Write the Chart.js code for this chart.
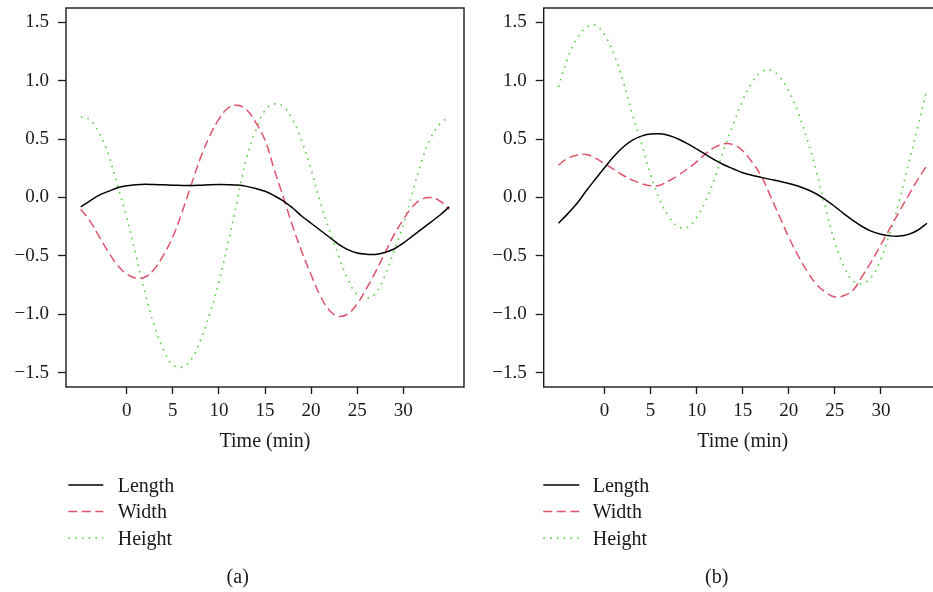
<!DOCTYPE html>
<html><head><meta charset="utf-8">
<script src="https://cdn.jsdelivr.net/npm/chart.js@4/dist/chart.umd.min.js"></script>
<style>
html,body{margin:0;padding:0;background:#fff;overflow:hidden;width:933px;height:592px;position:relative;}
canvas{position:absolute;top:0;}
#ca{left:0;}
#cb{left:466px;}
</style></head><body>
<canvas id="ca" width="490" height="592"></canvas>
<canvas id="cb" width="500" height="592"></canvas>
<script>
// ---- data ----
const time = [-5,-4,-3,-2,-1,0,1,2,3,4,5,6,7,8,9,10,11,12,13,14,15,16,17,18,19,20,21,22,23,24,25,26,27,28,29,30,31,32,33,34,35];

const lengthA = [-0.08,-0.028,0.02,0.052,0.083,0.10,0.11,0.113,0.111,0.108,0.105,0.103,0.102,0.105,0.109,0.111,0.11,0.106,0.095,0.077,0.053,0.015,-0.03,-0.09,-0.16,-0.22,-0.28,-0.34,-0.40,-0.445,-0.475,-0.485,-0.487,-0.47,-0.44,-0.39,-0.33,-0.27,-0.21,-0.15,-0.08];
const widthA = [-0.10,-0.20,-0.335,-0.465,-0.58,-0.655,-0.69,-0.68,-0.61,-0.49,-0.335,-0.125,0.11,0.34,0.525,0.67,0.765,0.788,0.75,0.64,0.49,0.24,0.0,-0.245,-0.465,-0.66,-0.84,-0.965,-1.015,-0.995,-0.91,-0.78,-0.635,-0.478,-0.32,-0.19,-0.08,-0.015,0.0,-0.03,-0.10];
const heightA = [0.69,0.665,0.55,0.37,0.10,-0.17,-0.50,-0.82,-1.10,-1.305,-1.43,-1.45,-1.385,-1.22,-0.995,-0.72,-0.39,-0.02,0.34,0.575,0.745,0.80,0.775,0.665,0.48,0.24,-0.04,-0.28,-0.50,-0.70,-0.83,-0.86,-0.82,-0.67,-0.46,-0.235,0.04,0.31,0.51,0.63,0.69];

const lengthB = [-0.22,-0.14,-0.052,0.055,0.156,0.254,0.35,0.43,0.488,0.525,0.542,0.545,0.53,0.50,0.46,0.415,0.367,0.32,0.278,0.244,0.212,0.19,0.172,0.155,0.138,0.12,0.098,0.068,0.03,-0.02,-0.077,-0.14,-0.198,-0.25,-0.29,-0.315,-0.328,-0.33,-0.315,-0.28,-0.22];
const widthB = [0.276,0.335,0.362,0.368,0.337,0.29,0.24,0.19,0.15,0.118,0.10,0.105,0.143,0.19,0.245,0.305,0.375,0.43,0.46,0.45,0.40,0.304,0.186,0.014,-0.163,-0.34,-0.496,-0.63,-0.742,-0.81,-0.85,-0.838,-0.79,-0.67,-0.544,-0.404,-0.262,-0.12,0.018,0.152,0.276];
const heightB = [0.945,1.19,1.36,1.45,1.475,1.39,1.23,1.0,0.72,0.465,0.195,-0.02,-0.165,-0.25,-0.255,-0.17,-0.027,0.174,0.42,0.63,0.83,0.982,1.07,1.09,1.03,0.91,0.73,0.497,0.223,-0.092,-0.38,-0.592,-0.715,-0.735,-0.677,-0.526,-0.297,-0.03,0.29,0.6,0.93];

const seriesNames = ['Length','Width','Height'];
const xTickValues = [0,5,10,15,20,25,30];
const yTickValues = [-1.5,-1.0,-0.5,0.0,0.5,1.0,1.5];
const yTickLabels = ['\u22121.5','\u22121.0','\u22120.5','0.0','0.5','1.0','1.5'];
const xTitle = 'Time (min)';
const panelLabels = ['(a)','(b)'];

// ---- styling ----
const FONT = '"Liberation Serif", "Times New Roman", serif';
const INK = '#1a1a1a';
const styles = [
  {color:'#000000', dash:[], width:1.5},
  {color:'#DF536B', dash:[9,4.5], width:1.5},
  {color:'#61D04F', dash:[1.6,5.2], width:1.7}
];

function makeDatasets(arrs){
  return arrs.map((arr,i)=>({
    label: seriesNames[i],
    data: time.map((t,k)=>({x:t, y:arr[k]})),
    borderColor: styles[i].color,
    borderDash: styles[i].dash,
    borderWidth: styles[i].width,
    pointRadius: 0,
    tension: 0.4,
    fill: false
  }));
}

function decoPlugin(cfg){
  return {
    id: 'deco',
    afterDatasetsDraw(chart){
      const ctx = chart.ctx, a = chart.chartArea;
      ctx.save();
      ctx.strokeStyle = INK; ctx.lineWidth = 1.4; ctx.setLineDash([]);
      ctx.strokeRect(a.left, a.top, a.right-a.left, a.bottom-a.top);
      ctx.restore();
    },
    afterDraw(chart){
      const ctx = chart.ctx;
      ctx.save();
      chart.data.datasets.forEach((ds,i)=>{
        const y = cfg.legY + i*26.6;
        ctx.strokeStyle = ds.borderColor;
        ctx.lineWidth = ds.borderWidth;
        ctx.setLineDash(ds.borderDash || []);
        ctx.beginPath(); ctx.moveTo(cfg.legX0, y); ctx.lineTo(cfg.legX1, y); ctx.stroke();
        ctx.setLineDash([]);
        ctx.fillStyle = INK;
        ctx.font = '20px ' + FONT;
        ctx.textAlign = 'left'; ctx.textBaseline = 'alphabetic';
        ctx.fillText(ds.label, cfg.textX, y + 6.8);
      });
      ctx.font = '20px ' + FONT;
      ctx.textAlign = 'center';
      ctx.fillStyle = INK;
      ctx.fillText(cfg.caption, cfg.capX, 582.5);
      ctx.restore();
    }
  };
}

function makeChart(id, arrs, cfg){
  return new Chart(document.getElementById(id), {
    type: 'line',
    data: { datasets: makeDatasets(arrs) },
    options: {
      responsive: false, animation: false, events: [],
      layout: { padding: { top: 8, left: 0, right: cfg.padRight, bottom: 138 } },
      plugins: { legend: {display:false}, tooltip: {enabled:false}, title:{display:false} },
      scales: {
        x: {
          type: 'linear', min: -6.6, max: 36.6,
          afterBuildTicks: s => { s.ticks = xTickValues.map(v=>({value:v})); },
          afterFit: s => { s.height = 67; s.paddingLeft = 0; s.paddingRight = 0; s.paddingTop = 0; s.paddingBottom = 0; },
          grid: { display: true, drawOnChartArea: false, drawTicks: true, tickLength: 7, color: INK, tickColor: INK, tickWidth: 1.3 },
          border: { display: false },
          ticks: { font: { family: FONT, size: 19 }, color: INK, padding: 6, maxRotation: 0, autoSkip: false,
                   callback: v => String(v) },
          title: { display: true, text: xTitle, font: { family: FONT, size: 20 }, color: INK, padding: {top:0, bottom:0} }
        },
        y: {
          type: 'linear', min: -1.62, max: 1.62,
          afterBuildTicks: s => { s.ticks = yTickValues.map(v=>({value:v})); },
          afterFit: s => { s.width = cfg.yWidth; s.paddingTop = 0; s.paddingBottom = 0; s.paddingLeft = 0; s.paddingRight = 0; },
          grid: { display: true, drawOnChartArea: false, drawTicks: true, tickLength: 8, color: INK, tickColor: INK, tickWidth: 1.3 },
          border: { display: false },
          ticks: { font: { family: FONT, size: 19 }, color: INK, padding: 9, autoSkip: false,
                   callback: (v) => { const i = yTickValues.findIndex(t => Math.abs(t - v) < 1e-6); return i >= 0 ? yTickLabels[i] : ''; } }
        }
      }
    },
    plugins: [decoPlugin(cfg)]
  });
}

makeChart('ca', [lengthA, widthA, heightA], {
  yWidth: 66, padRight: 26, legX0: 68.3, legX1: 103.3, textX: 117.7, legY: 485, caption: panelLabels[0], capX: 237.7
});
makeChart('cb', [lengthB, widthB, heightB], {
  yWidth: 77.7, padRight: 24.3, legX0: 543.3-466, legX1: 579.3-466, textX: 592.7-466, legY: 485, caption: panelLabels[1], capX: 716.7-466
});
</script>
</body></html>
